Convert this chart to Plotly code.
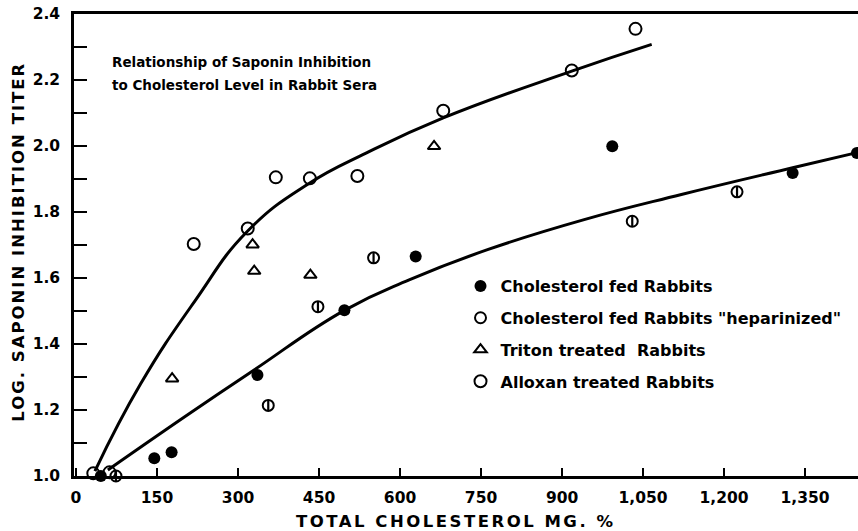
import plotly.graph_objects as go

# ---- data ----
fed_x = [46, 145, 177, 336, 497, 629, 993, 1327, 1446]
fed_y = [1.00, 1.054, 1.072, 1.306, 1.502, 1.665, 1.999, 1.918, 1.979]

hep_x = [74, 356, 448, 551, 1030, 1224]
hep_y = [1.00, 1.214, 1.513, 1.661, 1.772, 1.861]

triton_x = [178, 327, 330, 434, 663]
triton_y = [1.295, 1.701, 1.621, 1.609, 1.999]

allox_x = [32, 62, 218, 318, 370, 433, 521, 680, 918, 1036]
allox_y = [1.008, 1.011, 1.703, 1.750, 1.905, 1.902, 1.909, 2.107, 2.229, 2.355]

upper_x = [35, 120, 220, 317, 430, 538, 680, 918, 1066]
upper_y = [1.015, 1.280, 1.530, 1.741, 1.885, 1.979, 2.085, 2.227, 2.308]

lower_x = [59, 202, 325, 497, 618, 762, 941, 1121, 1327, 1446]
lower_y = [1.018, 1.180, 1.316, 1.502, 1.595, 1.686, 1.777, 1.853, 1.934, 1.980]

x_ticks = [0, 150, 300, 450, 600, 750, 900, 1050, 1200, 1350]
y_ticks = [1.0, 1.2, 1.4, 1.6, 1.8, 2.0, 2.2, 2.4]

legend_names = [
    "Cholesterol fed Rabbits",
    "Cholesterol fed Rabbits \"heparinized\"",
    "Triton treated  Rabbits",
    "Alloxan treated Rabbits",
]

FONT = "DejaVu Sans"
fig = go.Figure()

curve_line = dict(color="black", width=3, shape="spline", smoothing=1.3)
fig.add_trace(go.Scatter(x=upper_x, y=upper_y, mode="lines", line=curve_line, showlegend=False, hoverinfo="skip"))
fig.add_trace(go.Scatter(x=lower_x, y=lower_y, mode="lines", line=curve_line, showlegend=False, hoverinfo="skip"))

fig.add_trace(go.Scatter(x=fed_x, y=fed_y, mode="markers", name=legend_names[0], legendgroup="a",
                         marker=dict(symbol="circle", size=12, color="black"), cliponaxis=False))
fig.add_trace(go.Scatter(x=hep_x, y=hep_y, mode="markers", name=legend_names[1], legendgroup="b",
                         marker=dict(symbol="circle-open", size=11, color="black", line=dict(width=2)), cliponaxis=False))
fig.add_trace(go.Scatter(x=hep_x, y=hep_y, mode="markers", showlegend=False, legendgroup="b", hoverinfo="skip",
                         marker=dict(symbol="line-ns-open", size=8, color="black", line=dict(width=2.2)), cliponaxis=False))
fig.add_trace(go.Scatter(x=triton_x, y=triton_y, mode="markers", name=legend_names[2], legendgroup="c",
                         marker=dict(symbol="triangle-up-open", size=11, color="black", line=dict(width=2)), cliponaxis=False))
fig.add_trace(go.Scatter(x=allox_x, y=allox_y, mode="markers", name=legend_names[3], legendgroup="d",
                         marker=dict(symbol="circle-open", size=12, color="black", line=dict(width=2)), cliponaxis=False))

fig.update_layout(
    width=858, height=531,
    margin=dict(l=74, r=0, t=14, b=55),
    paper_bgcolor="white", plot_bgcolor="white",
    font=dict(family=FONT, color="black", size=15, weight="bold"),
    legend=dict(x=0.493, y=0.448, xanchor="left", yanchor="top", bgcolor="rgba(0,0,0,0)",
                font=dict(family=FONT, size=16, weight="bold"), tracegroupgap=8),
    xaxis=dict(range=[-3.7, 1448], tickvals=x_ticks, tickformat=",d", showgrid=False, zeroline=False,
               showline=True, linecolor="black", linewidth=2.5, mirror=True,
               ticks="inside", ticklen=8, tickwidth=2, tickcolor="black",
               tickfont=dict(family=FONT, size=15.5, weight="bold"), ticklabelstandoff=6,
               ticklabeloverflow="allow"),
    yaxis=dict(range=[1.0, 2.4], tickvals=y_ticks, tickformat=".1f", showgrid=False, zeroline=False,
               showline=True, linecolor="black", linewidth=2.5,
               ticks="inside", ticklen=13, tickwidth=2, tickcolor="black",
               minor=dict(dtick=0.1, ticks="inside", ticklen=13, tickwidth=2, tickcolor="black"),
               tickfont=dict(family=FONT, size=15.5, weight="bold"), ticklabelstandoff=8,
               ticklabeloverflow="allow"),
)

fig.add_annotation(text='<span style="letter-spacing:2px">LOG. SAPONIN INHIBITION TITER</span>',
                   xref="paper", yref="paper", x=-0.0702, y=0.507, xanchor="center", yanchor="middle",
                   textangle=-90, showarrow=False, font=dict(family=FONT, size=16.5, weight="bold"))
fig.add_annotation(text='<span style="letter-spacing:2.5px">TOTAL CHOLESTEROL MG. %</span>',
                   xref="paper", yref="paper", x=0.486, y=-45 / 462, xanchor="center", yanchor="middle",
                   showarrow=False, font=dict(family=FONT, size=16.5, weight="bold"))
fig.add_annotation(text="Relationship of Saponin Inhibition",
                   xref="paper", yref="paper", x=0.0459, y=(476 - 62) / 462, xanchor="left", yanchor="middle",
                   showarrow=False, font=dict(family=FONT, size=13.5, weight="bold"))
fig.add_annotation(text="to Cholesterol Level in Rabbit Sera",
                   xref="paper", yref="paper", x=0.0459, y=(476 - 85) / 462, xanchor="left", yanchor="middle",
                   showarrow=False, font=dict(family=FONT, size=13.5, weight="bold"))

# remove the default page margin so the 858x531 figure fills the window exactly
fig.write_html("out.html", config={"displayModeBar": False},
               post_script="document.body.style.margin='0';document.body.style.overflow='hidden';")
